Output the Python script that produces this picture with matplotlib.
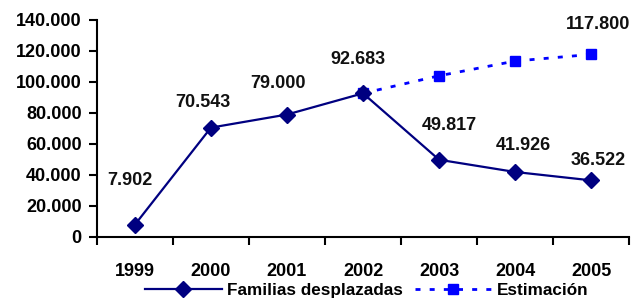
import matplotlib
matplotlib.use("Agg")
import matplotlib.pyplot as plt
from matplotlib.ticker import FuncFormatter

years = ["1999", "2000", "2001", "2002", "2003", "2004", "2005"]
familias = [7902, 70543, 79000, 92683, 49817, 41926, 36522]
est_years = ["2002", "2003", "2004", "2005"]
estimacion = [92683, 104000, 113500, 117800]
familias_labels = ["7.902", "70.543", "79.000", "92.683", "49.817", "41.926", "36.522"]
est_label = "117.800"

# label offsets (pixels, relative to point) -- styling only
fam_off = [(-5, 44), (-8, 25), (-9, 31), (-5, 34), (10, 34), (8, 26), (7, 20)]
est_off = (7, 30)

FS = 13
plt.rcParams['font.family'] = ['Liberation Sans', 'DejaVu Sans']
plt.rcParams['font.weight'] = 'bold'

fig = plt.figure(figsize=(6.33, 3.03), dpi=100)
ax = fig.add_axes([0.153, 0.218, 0.841, 0.716])

xf = list(range(len(years)))
xe = [years.index(y) for y in est_years]

l2, = ax.plot(xe, estimacion, color='#0000FF', linestyle=(0, (1.8, 3.3)), linewidth=2,
              marker='s', markersize=7, label='Estimación')
l1, = ax.plot(xf, familias, color='#000080', linewidth=1.6, marker='D', markersize=8,
              label='Familias desplazadas')

px = 72 / 100
for x, v, t, (dx, dy) in zip(xf, familias, familias_labels, fam_off):
    ax.annotate(t, (x, v), xytext=(dx * px, dy * px), textcoords='offset points', ha='center',
                va='center', fontsize=FS, fontweight='bold', color='#111111')
ax.annotate(est_label, (xe[-1], estimacion[-1]), xytext=(est_off[0] * px, est_off[1] * px),
            textcoords='offset points', ha='center', va='center', fontsize=FS,
            fontweight='bold', color='#111111')

ax.set_xlim(-0.5, len(years) - 0.5)
ax.set_ylim(0, 140000)
ax.set_yticks(range(0, 140001, 20000))
ax.yaxis.set_major_formatter(FuncFormatter(lambda v, p: f"{int(v):,}".replace(",", ".")))
ax.set_xticks([i - 0.5 for i in range(len(years) + 1)])
ax.set_xticklabels([])
ax.set_xticks(xf, minor=True)
ax.set_xticklabels(years, minor=True)
ax.tick_params(axis='x', which='minor', length=0, pad=19, labelsize=FS)
ax.tick_params(axis='x', which='major', length=6, width=1.5, direction='out')
ax.tick_params(axis='y', length=6, width=1.5, direction='out', labelsize=FS, pad=5)
for lab in ax.get_xticklabels(minor=True) + ax.get_yticklabels():
    lab.set_fontweight('bold')
for s in ['top', 'right']:
    ax.spines[s].set_visible(False)
for s in ['left', 'bottom']:
    ax.spines[s].set_linewidth(1.5)

leg = fig.legend([l1, l2], ['Familias desplazadas', 'Estimación'], loc='center',
                 bbox_to_anchor=(0.579, 0.042), ncol=2, frameon=False, fontsize=12.3,
                 handlelength=4.5, handletextpad=0.3, columnspacing=0.7, borderpad=0)
for t in leg.get_texts():
    t.set_fontweight('bold')

fig.savefig('out.png', dpi=100)
